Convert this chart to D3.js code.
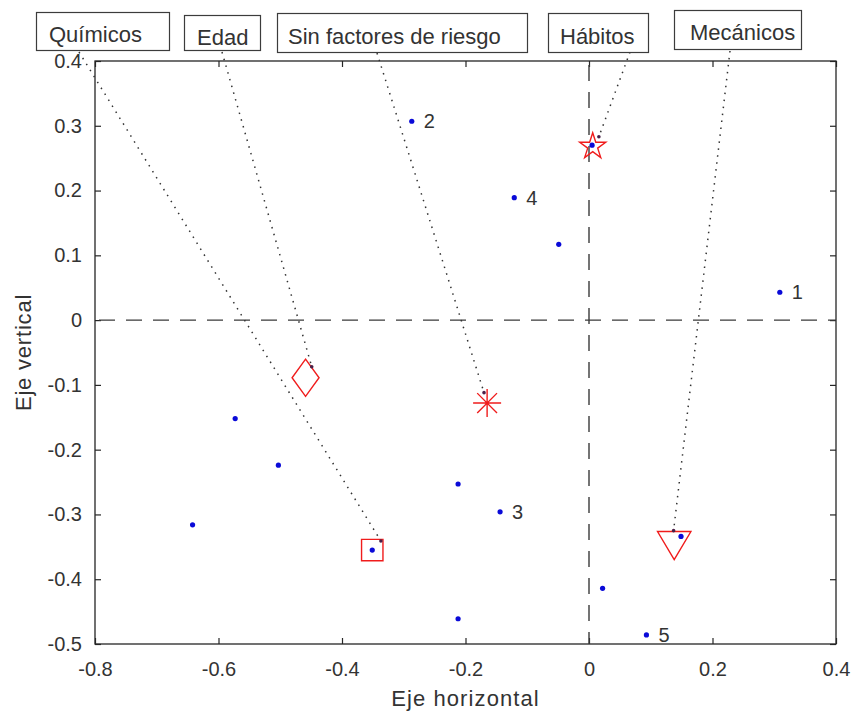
<!DOCTYPE html>
<html>
<head>
<meta charset="utf-8">
<script src="https://cdn.jsdelivr.net/npm/d3@7"></script>
<style>
  body { margin: 0; background: #fff; }
  svg { display: block; font-family: "Liberation Sans", Arial, Helvetica, sans-serif; }
</style>
</head>
<body>
<svg id="chart" width="855" height="717"></svg>
<script>
// Axis ticks
const xTicks = [-0.8, -0.6, -0.4, -0.2, 0, 0.2, 0.4];
const xTickLabels = ["-0.8", "-0.6", "-0.4", "-0.2", "0", "0.2", "0.4"];
const yTicks = [0.4, 0.3, 0.2, 0.1, 0, -0.1, -0.2, -0.3, -0.4, -0.5];
const yTickLabels = ["0.4", "0.3", "0.2", "0.1", "0", "-0.1", "-0.2", "-0.3", "-0.4", "-0.5"];

// Individual observations (blue dots) and their labels
const pointX = [0.309, -0.287, -0.144, -0.121, 0.093, -0.049, 0.005, -0.212, -0.212, 0.022, 0.149, -0.573, -0.503, -0.642, -0.351];
const pointY = [0.043, 0.307, -0.296, 0.189, -0.486, 0.117, 0.270, -0.253, -0.461, -0.414, -0.334, -0.152, -0.224, -0.316, -0.355];
const pointLabels = ["1", "2", "3", "4", "5", "", "", "", "", "", "", "", "", "", ""];

// Category centroids (red markers) and the ends of their callout lines
const groupNames = ["Químicos", "Edad", "Sin factores de riesgo", "Hábitos", "Mecánicos"];
const groupX = [-0.351, -0.459, -0.165, 0.006, 0.138];
const groupY = [-0.355, -0.089, -0.128, 0.268, -0.348];
const arrowHeadX = [-0.337, -0.449, -0.170, 0.016, 0.137];
const arrowHeadY = [-0.341, -0.072, -0.112, 0.283, -0.325];

// Reference lines through the origin
const refLines = [
  { x1: -0.8, y1: 0, x2: 0.4, y2: 0 },
  { x1: 0, y1: 0.4, x2: 0, y2: -0.5 }
];

// ---- styling / layout ----
const markerShape = { "Químicos": "square", "Edad": "diamond", "Sin factores de riesgo": "asterisk", "Hábitos": "pentagram", "Mecánicos": "triangle" };
const boxLayout = [
  { x: 36,  y: 12, w: 133, h: 38, tx: 49,  ty: 42,   tailX: 79,  tailY: 52 },
  { x: 184, y: 15, w: 76,  h: 35, tx: 197, ty: 45,   tailX: 222, tailY: 52 },
  { x: 277, y: 13, w: 250, h: 39, tx: 288, ty: 43.5, tailX: 377, tailY: 53 },
  { x: 548, y: 13, w: 100, h: 39, tx: 560, ty: 43.5, tailX: 630, tailY: 52 },
  { x: 674, y: 10, w: 127, h: 39, tx: 690, ty: 39.5, tailX: 730, tailY: 51 }
];
const plot = { left: 95, right: 836, top: 61, bottom: 644 };
const axisColor = "#262626";
const textColor = "#333333";
const red = "#f01c1c";
const blue = "#0a0ad8";

const svg = d3.select("#chart");
const x = d3.scaleLinear().domain([-0.8, 0.4]).range([plot.left, plot.right]);
const y = d3.scaleLinear().domain([-0.5, 0.4]).range([plot.bottom, plot.top]);

// axes (ticks point inward, on all four sides)
function styleAxis(g) {
  g.select(".domain").remove();
  g.selectAll(".tick line").attr("stroke", axisColor).attr("stroke-width", 1.2);
  g.selectAll(".tick text").attr("fill", textColor).style("font-size", "20px")
    .style("font-family", '"Liberation Sans", Arial, sans-serif');
}
svg.append("g").attr("transform", `translate(0,${plot.bottom})`)
  .call(d3.axisBottom(x).tickValues(xTicks).tickFormat((d, i) => xTickLabels[i])
    .tickSizeInner(-6).tickSizeOuter(0).tickPadding(18))
  .call(styleAxis);
svg.append("g").attr("transform", `translate(0,${plot.top})`)
  .call(d3.axisTop(x).tickValues(xTicks).tickFormat(() => "").tickSizeInner(-6).tickSizeOuter(0))
  .call(styleAxis);
svg.append("g").attr("transform", `translate(${plot.left},0)`)
  .call(d3.axisLeft(y).tickValues(yTicks).tickFormat((d, i) => yTickLabels[i])
    .tickSizeInner(-6).tickSizeOuter(0).tickPadding(13))
  .call(styleAxis);
svg.append("g").attr("transform", `translate(${plot.right},0)`)
  .call(d3.axisRight(y).tickValues(yTicks).tickFormat(() => "").tickSizeInner(-6).tickSizeOuter(0))
  .call(styleAxis);

svg.append("rect")
  .attr("x", plot.left).attr("y", plot.top)
  .attr("width", plot.right - plot.left).attr("height", plot.bottom - plot.top)
  .attr("fill", "none").attr("stroke", axisColor).attr("stroke-width", 1.3);

// axis titles
svg.append("text")
  .attr("x", (plot.left + plot.right) / 2).attr("y", 706)
  .attr("text-anchor", "middle").attr("fill", textColor)
  .style("font-size", "22px").style("letter-spacing", "1.1px")
  .text("Eje horizontal");
svg.append("text")
  .attr("transform", `translate(31,${(plot.top + plot.bottom) / 2}) rotate(-90)`)
  .attr("text-anchor", "middle").attr("fill", textColor)
  .style("font-size", "22px").style("letter-spacing", "0.8px")
  .text("Eje vertical");

// dashed reference lines
svg.append("g").selectAll("line").data(refLines).join("line")
  .attr("x1", d => x(d.x1)).attr("y1", d => y(d.y1))
  .attr("x2", d => x(d.x2)).attr("y2", d => y(d.y2))
  .attr("stroke", "#3a3a3a").attr("stroke-width", 1.4)
  .attr("stroke-dasharray", "16,11").attr("stroke-dashoffset", -4);

// observations
const pts = pointX.map((v, i) => ({ x: v, y: pointY[i], label: pointLabels[i] }));
svg.append("g").selectAll("circle").data(pts).join("circle")
  .attr("cx", d => x(d.x)).attr("cy", d => y(d.y)).attr("r", 2.6)
  .attr("fill", blue);
svg.append("g").selectAll("text").data(pts.filter(d => d.label)).join("text")
  .attr("x", d => x(d.x) + 12).attr("y", d => y(d.y))
  .attr("dy", "0.36em").attr("fill", textColor)
  .style("font-size", "20px")
  .text(d => d.label);

// centroid markers
function markerPath(shape, cx, cy) {
  const p = d3.path();
  if (shape === "square") {
    const h = 10.7;
    p.rect(cx - h, cy - h, 2 * h, 2 * h);
  } else if (shape === "diamond") {
    const w = 13.5, h = 18.6;
    p.moveTo(cx, cy - h); p.lineTo(cx + w, cy); p.lineTo(cx, cy + h); p.lineTo(cx - w, cy); p.closePath();
  } else if (shape === "asterisk") {
    const r = 14, d = r * Math.SQRT1_2;
    p.moveTo(cx - r, cy); p.lineTo(cx + r, cy);
    p.moveTo(cx, cy - r); p.lineTo(cx, cy + r);
    p.moveTo(cx - d, cy - d); p.lineTo(cx + d, cy + d);
    p.moveTo(cx - d, cy + d); p.lineTo(cx + d, cy - d);
  } else if (shape === "pentagram") {
    const R = 13.7, rIn = R * 0.382;
    for (let k = 0; k < 10; k++) {
      const a = -Math.PI / 2 + k * Math.PI / 5;
      const rr = k % 2 === 0 ? R : rIn;
      const px = cx + rr * Math.cos(a), py = cy + rr * Math.sin(a);
      if (k === 0) p.moveTo(px, py); else p.lineTo(px, py);
    }
    p.closePath();
  } else if (shape === "triangle") {
    const w = 16.7, h = 14;
    p.moveTo(cx - w, cy - h); p.lineTo(cx + w, cy - h); p.lineTo(cx, cy + h); p.closePath();
  }
  return p.toString();
}
const groups = groupNames.map((n, i) => ({
  name: n, x: groupX[i], y: groupY[i], hx: arrowHeadX[i], hy: arrowHeadY[i], box: boxLayout[i]
}));
svg.append("g").selectAll("path").data(groups).join("path")
  .attr("d", d => markerPath(markerShape[d.name], x(d.x), y(d.y)))
  .attr("fill", "none").attr("stroke", red).attr("stroke-width", 1.4)
  .attr("stroke-linejoin", "miter");

// callout lines from the category boxes to their markers
svg.append("g").selectAll("line").data(groups).join("line")
  .attr("x1", d => d.box.tailX).attr("y1", d => d.box.tailY)
  .attr("x2", d => x(d.hx)).attr("y2", d => y(d.hy))
  .attr("stroke", "#333").attr("stroke-width", 1.5)
  .attr("stroke-dasharray", "1.5,5.5");
svg.append("g").selectAll("circle").data(groups).join("circle")
  .attr("cx", d => x(d.hx)).attr("cy", d => y(d.hy)).attr("r", 1.8)
  .attr("fill", "#4a2048");

// category boxes
const boxes = svg.append("g").selectAll("g").data(groups).join("g");
boxes.append("rect")
  .attr("x", d => d.box.x + 0.5).attr("y", d => d.box.y + 0.5)
  .attr("width", d => d.box.w).attr("height", d => d.box.h)
  .attr("fill", "#fff").attr("stroke", "#3c3c3c").attr("stroke-width", 1.2);
boxes.append("text")
  .attr("x", d => d.box.tx).attr("y", d => d.box.ty)
  .attr("fill", textColor).style("font-size", "22px")
  .text(d => d.name);
</script>
</body>
</html>
